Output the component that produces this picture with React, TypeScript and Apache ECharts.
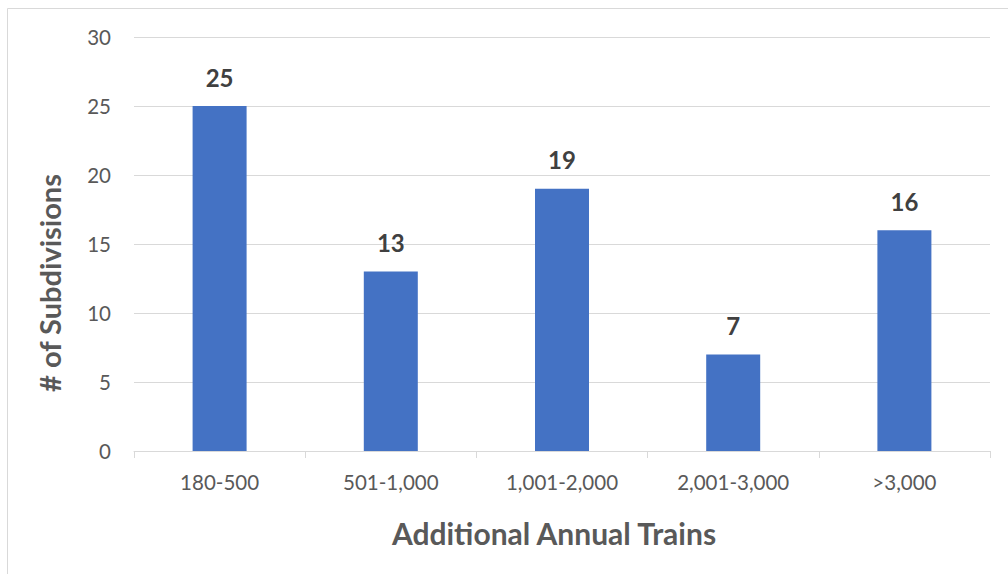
import React, { useEffect, useRef } from "react";
import * as echarts from "echarts";

const categories = ["180-500", "501-1,000", "1,001-2,000", "2,001-3,000", ">3,000"];
const subdivisions = [25, 13, 19, 7, 16];
const yTicks = [0, 5, 10, 15, 20, 25, 30];

const FONT = "Lato, 'Noto Sans', sans-serif";

export default function App() {
  const ref = useRef<HTMLDivElement>(null);
  useEffect(() => {
    if (!ref.current) return;
    const chart = echarts.init(ref.current, undefined, { renderer: "svg" });
    chart.setOption({
      animation: false,
      backgroundColor: "#ffffff",
      textStyle: { fontFamily: FONT },
      graphic: [
        {
          type: "rect",
          shape: { x: 7.5, y: 8.5, width: 1010, height: 580 },
          style: { fill: "none", stroke: "#d9d9d9", lineWidth: 1 },
          silent: true,
        },
      ],
      grid: { left: 134, right: 18, top: 37, bottom: 123, containLabel: false },
      xAxis: {
        type: "category",
        data: categories,
        name: "Additional Annual Trains",
        nameLocation: "middle",
        nameGap: 67,
        nameTextStyle: {
          fontFamily: FONT,
          fontSize: 30,
          fontWeight: "bold",
          color: "#595959",
          padding: [0, 16, 0, 0],
        },
        axisLine: { show: true, lineStyle: { color: "#d9d9d9", width: 1 } },
        axisTick: { show: true, alignWithLabel: false, length: 7, lineStyle: { color: "#d9d9d9" } },
        axisLabel: { fontFamily: FONT, fontSize: 20.5, color: "#595959", margin: 20 },
      },
      yAxis: {
        type: "value",
        min: 0,
        max: 30,
        interval: 5,
        name: "# of Subdivisions",
        nameLocation: "middle",
        nameGap: 70,
        nameTextStyle: {
          fontFamily: FONT,
          fontSize: 29,
          fontWeight: "bold",
          color: "#595959",
          padding: [0, 78, 0, 0],
        },
        axisLine: { show: false },
        axisTick: { show: false },
        splitLine: { lineStyle: { color: "#d9d9d9", width: 1 } },
        axisLabel: {
          fontFamily: FONT,
          fontSize: 20.5,
          color: "#595959",
          margin: 23,
          formatter: (v: number) => (yTicks.includes(v) ? String(v) : ""),
        },
      },
      series: [
        {
          type: "bar",
          data: subdivisions,
          barWidth: 54,
          itemStyle: { color: "#4472c4" },
          label: {
            show: true,
            position: "top",
            distance: 17,
            fontFamily: FONT,
            fontSize: 24,
            fontWeight: "bold",
            color: "#404040",
          },
        },
      ],
    });
    return () => chart.dispose();
  }, []);
  return (
    <div
      ref={ref}
      style={{ position: "absolute", left: 0, top: 0, width: 1008, height: 574 }}
    />
  );
}
